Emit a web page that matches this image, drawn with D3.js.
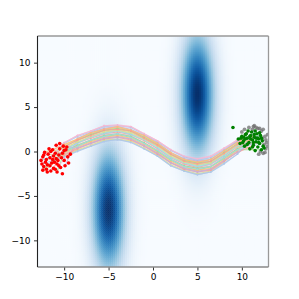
<!DOCTYPE html>
<html><head><meta charset="utf-8">
<script src="https://cdn.jsdelivr.net/npm/d3@7"></script>
<style>html,body{margin:0;padding:0;background:#fff;}svg{display:block;}</style>
</head><body>
<svg id="chart" width="299" height="299"></svg>
<script>
// ---- data ----
const xDomain = [-13, 13];
const yDomain = [-13, 13];
const tickValues = [-10, -5, 0, 5, 10];
// obstacle density blobs: [cx, cy, sx, sy]
const blobs = [[5, 6.5, 1.0, 3.6], [-5, -6.5, 1.0, 3.6]];
const gridN = 116;
// shared x nodes of trajectories
const nodeX = [-10, -8.5, -7, -5.5, -4, -2.5, -1, 0.5, 2, 3.5, 5, 6.5, 8, 9.5];
const trajY = [
  [1.0,1.8,2.3,2.9,3.0,2.8,2.0,1.2,0.2,-0.6,-0.9,-0.6,0.3,1.4],
  [-0.6,0.1,0.6,1.2,1.3,1.1,0.3,-0.5,-1.6,-2.2,-2.6,-2.3,-1.4,-0.3],
  [0.5,1.2,1.9,2.3,2.5,2.2,1.5,0.7,-0.4,-1.1,-1.4,-1.2,-0.2,0.8],
  [-0.1,0.6,1.2,1.7,1.9,1.6,0.9,0.0,-1.0,-1.7,-2.1,-1.7,-0.8,0.2],
  [0.7,1.4,2.0,2.5,2.7,2.4,1.7,0.9,-0.2,-0.9,-1.3,-0.9,0.0,1.0],
  [-0.3,0.4,1.0,1.5,1.7,1.4,0.7,-0.2,-1.2,-1.9,-2.2,-2.0,-1.0,0.0],
  [0.2,1.0,1.5,2.0,2.2,1.9,1.2,0.3,-0.7,-1.4,-1.8,-1.4,-0.5,0.5],
  [0.4,1.0,1.7,2.1,2.4,2.0,1.4,0.5,-0.6,-1.2,-1.6,-1.3,-0.4,0.7],
  [0.0,0.8,1.3,1.9,2.0,1.8,1.0,0.2,-0.8,-1.6,-1.9,-1.6,-0.6,0.3],
  [0.9,1.7,2.2,2.8,2.9,2.7,1.9,1.1,0.1,-0.6,-1.0,-0.7,0.2,1.2],
  [-0.5,0.2,0.7,1.3,1.4,1.2,0.4,-0.4,-1.5,-2.1,-2.5,-2.2,-1.2,-0.2],
  [0.6,1.3,1.9,2.4,2.6,2.3,1.6,0.8,-0.3,-1.0,-1.3,-1.1,-0.1,0.9],
  [-0.2,0.5,1.1,1.6,1.8,1.5,0.8,-0.1,-1.1,-1.8,-2.1,-1.9,-0.9,0.1],
  [0.8,1.5,2.1,2.6,2.8,2.5,1.8,1.0,-0.1,-0.8,-1.1,-0.9,0.1,1.1],
  [-0.4,0.3,0.9,1.4,1.6,1.3,0.6,-0.3,-1.3,-2.0,-2.3,-2.1,-1.1,-0.1],
  [0.3,0.9,1.6,2.0,2.3,1.9,1.3,0.4,-0.7,-1.3,-1.7,-1.4,-0.5,0.6],
  [1.0,1.8,2.3,2.9,2.9,2.8,2.0,1.2,0.2,-0.5,-0.8,-0.5,0.4,1.3],
  [-0.6,0.0,0.6,1.1,1.4,1.0,0.3,-0.5,-1.6,-2.2,-2.6,-2.3,-1.3,-0.3],
  [0.4,1.1,1.7,2.2,2.4,2.1,1.4,0.6,-0.5,-1.2,-1.5,-1.3,-0.3,0.7],
  [0.0,0.7,1.3,1.8,2.0,1.7,1.0,0.1,-0.9,-1.6,-1.9,-1.7,-0.7,0.3],
  [0.8,1.4,2.1,2.5,2.8,2.4,1.8,0.9,-0.1,-0.9,-1.2,-0.9,0.1,1.0],
  [-0.4,0.4,0.9,1.5,1.6,1.4,0.6,-0.2,-1.3,-1.9,-2.3,-2.0,-1.0,-0.1],
  [0.5,1.3,1.8,2.4,2.5,2.3,1.5,0.7,-0.3,-1.1,-1.4,-1.1,-0.2,0.8],
  [0.0,0.6,1.3,1.7,2.0,1.6,0.9,0.1,-0.9,-1.7,-2.0,-1.7,-0.7,0.2]
];
const startPts = [
  [-12.4,-0.6],[-12.1,-1.2],[-11.8,-0.3],[-11.6,-1.6],[-11.3,-0.9],[-11.0,-0.2],[-10.8,-1.4],[-10.5,0.3],
  [-10.3,-0.7],[-10.1,0.6],[-9.8,0.2],[-10.5,0.9],[-12.0,-2.0],[-11.5,-2.2],[-11.2,-1.9],[-10.8,-2.3],
  [-10.2,-2.5],[-9.9,-1.6],[-9.5,-1.3],[-12.6,-1.0],[-12.2,-0.1],[-11.7,0.3],[-11.3,0.2],[-10.9,0.7],
  [-10.6,-0.4],[-11.9,-1.5],[-12.3,-1.7],[-11.1,-1.2],[-10.4,-1.8],[-10.0,-1.0],[-9.3,-0.3],[-9.7,0.5],
  [-11.6,-0.7],[-12.0,-0.9],[-10.7,-1.0],[-10.2,-0.2],[-11.4,-1.3],[-12.5,-1.4],[-11.9,-2.3],[-11.0,-2.0],
  [-10.6,-1.6],[-12.3,-0.4],[-11.5,0.0],[-10.0,0.1],[-9.6,-0.6],[-11.2,-0.5],[-10.9,-0.8],[-12.4,-2.1]
];
const endPts = [
  [9.6,1.4],[9.8,0.9],[10.0,1.7],[10.2,1.2],[10.3,0.6],[10.5,2.0],[10.6,1.5],[10.8,1.0],
  [10.9,0.3],[11.0,1.8],[11.1,2.2],[11.2,1.3],[11.3,0.7],[11.4,1.6],[11.5,0.1],[11.6,1.1],
  [11.7,2.0],[11.8,0.5],[11.9,1.4],[12.0,0.9],[12.1,1.8],[12.2,0.2],[12.3,1.2],[12.4,0.6],
  [10.4,1.9],[10.7,2.3],[11.0,1.4],[10.1,1.0],[9.9,1.5],[11.3,1.0],[11.8,1.5],[12.5,0.4],
  [10.6,0.8],[11.5,2.3],[12.0,2.1],[10.4,1.4],[10.9,1.7],[11.2,0.5],[11.6,1.5],[12.2,1.5],
  [10.2,1.6],[11.4,1.9],[11.9,1.0],[9.0,2.7]
];
const grayPts = [
  [10.3,2.5],[10.8,2.7],[11.3,2.8],[11.8,2.6],[12.2,2.3],[12.6,1.7],[12.8,1.0],[12.7,0.3],
  [12.4,-0.2],[11.9,-0.3],[11.2,2.5],[12.3,1.5],[12.5,0.8],[12.9,0.6],[12.0,2.6],[10.0,2.2],
  [11.6,2.7],[12.6,-0.1],[12.1,0.0],[12.7,1.3],[11.4,2.9],[12.9,1.9],[12.4,2.5]
];
const lineColors = ["#f7b6d2","#aec7e8","#dbdb8d","#98df8a","#ffbb78","#c5b0d5","#ff9896","#9edae5"];

// ---- layout ----
const margin = {left: 37.5, top: 36, size: 231};
const svg = d3.select("#chart");
const x = d3.scaleLinear().domain(xDomain).range([margin.left, margin.left + margin.size]);
const y = d3.scaleLinear().domain(yDomain).range([margin.top + margin.size, margin.top]);

svg.append("defs").append("clipPath").attr("id", "clip")
  .append("rect").attr("x", margin.left).attr("y", margin.top)
  .attr("width", margin.size).attr("height", margin.size);
const plot = svg.append("g").attr("clip-path", "url(#clip)");

// density grid
const cells = [];
const step = (xDomain[1] - xDomain[0]) / gridN;
for (let i = 0; i < gridN; i++) {
  for (let j = 0; j < gridN; j++) {
    const cx = xDomain[0] + (i + 0.5) * step, cy = yDomain[0] + (j + 0.5) * step;
    let d = 0;
    blobs.forEach(b => {
      d += Math.exp(-0.5 * (((cx - b[0]) / b[2]) ** 2 + ((cy - b[1]) / b[3]) ** 2));
    });
    cells.push({x0: xDomain[0] + i * step, y0: yDomain[0] + j * step, d});
  }
}
const dmax = d3.max(cells, c => c.d);
const color = d3.scaleSequentialPow(d3.interpolateBlues).exponent(0.6).domain([0, dmax]);
plot.append("g").selectAll("rect").data(cells).join("rect")
  .attr("x", c => x(c.x0)).attr("y", c => y(c.y0 + step))
  .attr("width", Math.abs(x(step) - x(0)) + 0.5).attr("height", Math.abs(y(0) - y(step)) + 0.5)
  .attr("fill", c => color(c.d));

// trajectories
const line = d3.line().x(p => x(p[0])).y(p => y(p[1]));
const trajs = trajY.map((ys, k) => {
  const s = startPts[(k * 5) % startPts.length], e = endPts[(k * 7) % 43];
  const pts = [s];
  nodeX.forEach((nx, i) => { if (nx > s[0] + 0.6 && nx < e[0] - 0.6) pts.push([nx, ys[i]]); });
  pts.push(e);
  return pts;
});
const tg = plot.append("g");
trajs.forEach((pts, k) => {
  const c = lineColors[k % lineColors.length];
  tg.append("path").attr("d", line(pts)).attr("fill", "none")
    .attr("stroke", c).attr("stroke-width", 1.1).attr("opacity", 0.8);
  tg.selectAll(null).data(pts).join("circle")
    .attr("cx", p => x(p[0])).attr("cy", p => y(p[1])).attr("r", 0.9)
    .attr("fill", c).attr("opacity", 0.8);
});

// points
plot.append("g").selectAll("circle").data(grayPts).join("circle")
  .attr("cx", p => x(p[0])).attr("cy", p => y(p[1])).attr("r", 1.9)
  .attr("fill", "#6e6e6e").attr("opacity", 0.75);
plot.append("g").selectAll("circle").data(startPts).join("circle")
  .attr("cx", p => x(p[0])).attr("cy", p => y(p[1])).attr("r", 1.8).attr("fill", "red");
plot.append("g").selectAll("circle").data(endPts).join("circle")
  .attr("cx", p => x(p[0])).attr("cy", p => y(p[1])).attr("r", 1.8).attr("fill", "green");

// axes
const fmt = d => d < 0 ? "\u2212" + Math.abs(d) : String(d);
const xAxis = svg.append("g").attr("transform", `translate(0,${margin.top + margin.size})`)
  .call(d3.axisBottom(x).tickValues(tickValues).tickFormat(fmt).tickSize(3.5).tickPadding(3.5));
const yAxis = svg.append("g").attr("transform", `translate(${margin.left},0)`)
  .call(d3.axisLeft(y).tickValues(tickValues).tickFormat(fmt).tickSize(3.5).tickPadding(3.5));
[xAxis, yAxis].forEach(a => {
  a.select(".domain").remove();
  a.selectAll("text").attr("font-family", "DejaVu Sans").attr("font-size", 9).attr("fill", "#000");
  a.selectAll("line").attr("stroke", "#000").attr("stroke-width", 0.8);
});
// spines
const L = margin.left, T = margin.top, R = margin.left + margin.size, B = margin.top + margin.size;
svg.append("line").attr("x1", L).attr("x2", R).attr("y1", T).attr("y2", T).attr("stroke", "#999").attr("stroke-width", 1.3);
svg.append("line").attr("x1", R).attr("x2", R).attr("y1", T).attr("y2", B).attr("stroke", "#999").attr("stroke-width", 1.3);
svg.append("line").attr("x1", L).attr("x2", R).attr("y1", B).attr("y2", B).attr("stroke", "#888").attr("stroke-width", 1.3);
svg.append("line").attr("x1", L).attr("x2", L).attr("y1", T).attr("y2", B).attr("stroke", "#222").attr("stroke-width", 1.1);
</script>
</body></html>
